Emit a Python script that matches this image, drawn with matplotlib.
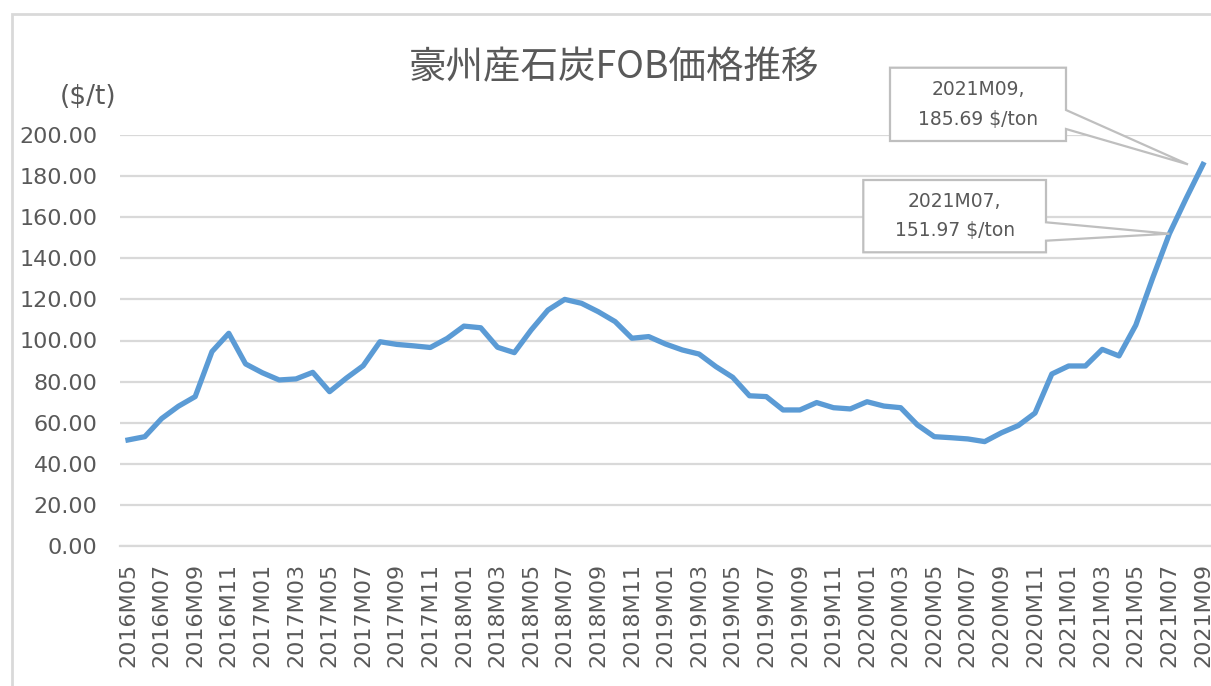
import numpy as np
import matplotlib
matplotlib.use("Agg")
import matplotlib.pyplot as plt
from matplotlib.patches import Polygon, Rectangle

# monthly FOB price, 2016M05 .. 2021M09
months = [f"{y}M{m:02d}" for y in range(2016, 2022) for m in range(1, 13)
          if (y, m) >= (2016, 5) and (y, m) <= (2021, 9)]
price = [
    51.6, 53.2, 62.0, 68.0, 72.7, 94.6, 103.5, 88.6,
    84.3, 80.8, 81.3, 84.5, 75.1, 81.7, 87.7, 99.4, 98.1, 97.4, 96.6, 101.0,
    107.0, 106.2, 96.7, 94.1, 105.1, 114.8, 120.0, 118.1, 114.0, 109.2, 101.1, 101.9,
    98.3, 95.4, 93.4, 87.3, 82.1, 73.1, 72.7, 66.2, 66.2, 69.8, 67.3, 66.7,
    70.2, 68.1, 67.3, 58.9, 53.2, 52.7, 52.1, 50.8, 55.1, 58.6, 64.7, 83.7,
    87.6, 87.6, 95.7, 92.5, 107.5, 130.3, 151.97, 169.2, 185.69,
]
yticks = np.arange(0, 201, 20)
callouts = ["2021M09", "2021M07"]

W, H = 1211, 686
GREY = "#595959"
GRID = "#d9d9d9"

plt.rcParams['font.family'] = ['DejaVu Sans', 'Noto Sans CJK JP']

fig = plt.figure(figsize=(W / 100, H / 100), dpi=100)


def fx(px):
    return px / W


def fy(py):
    return 1 - py / H


# chart area frame (left and top edge visible)
fig.add_artist(Rectangle((fx(12), fy(H + 20)), fx(W + 20), fy(14) - fy(H + 20),
                         transform=fig.transFigure, fill=False,
                         edgecolor=GRID, lw=2))

ax = fig.add_axes([fx(119.6), fy(546), fx(1211.4 - 119.6), fy(135) - fy(546)])
x = np.arange(len(months))
ax.plot(x, price, color="#5b9bd5", lw=3.8, solid_joinstyle="round", zorder=3)

ax.set_xlim(-0.5, len(months) - 0.5)
ax.set_ylim(0, 200)
ax.set_yticks(yticks)
ax.set_yticklabels([f"{v:.2f}" for v in yticks], fontsize=16, color=GREY)
ax.set_xticks(x[::2])
ax.set_xticklabels(months[::2], rotation=90, fontsize=16, color=GREY)
ax.tick_params(axis='y', length=0, pad=16)
ax.tick_params(axis='x', length=0, pad=12)
ax.grid(axis='y', color=GRID, lw=1.6)
ax.set_axisbelow(True)
for s in ['top', 'right', 'left']:
    ax.spines[s].set_visible(False)
ax.spines['bottom'].set_color(GRID)
ax.spines['bottom'].set_linewidth(1.6)

fig.text(fx(614), fy(68), "豪州産石炭FOB価格推移", family=['Noto Sans CJK JP'],
         fontsize=27, color=GREY, ha='center', va='center')
fig.text(fx(88), fy(97), "($/t)", fontsize=19, color=GREY, ha='center', va='center')

# callout boxes: (left, top, right, bottom, join1, join2, tip x-offset px) in pixels
boxes = [
    (890, 67.7, 1066, 141, 110, 129, -15),
    (863.3, 180, 1046, 252.3, 222.3, 240.7, 0),
]
fig.canvas.draw()
inv = fig.transFigure.inverted()
for lab, (L, T, R, B, j1, j2, dx) in zip(callouts, boxes):
    i = months.index(lab)
    tx, ty = ax.transData.transform((x[i], price[i]))
    tip = inv.transform((tx + dx, ty))
    verts = [(fx(L), fy(T)), (fx(R), fy(T)), (fx(R), fy(j1)), tuple(tip),
             (fx(R), fy(j2)), (fx(R), fy(B)), (fx(L), fy(B))]
    fig.add_artist(Polygon(verts, closed=True, transform=fig.transFigure,
                           facecolor="white", edgecolor="#bfbfbf", lw=1.6, zorder=5))
    fig.text(fx((L + R) / 2), fy((T + B) / 2), f"{lab},\n{price[i]:.2f} $/ton",
             fontsize=13.5, color=GREY, ha='center', va='center',
             linespacing=1.7, zorder=6)

fig.savefig("out.png", dpi=100)
